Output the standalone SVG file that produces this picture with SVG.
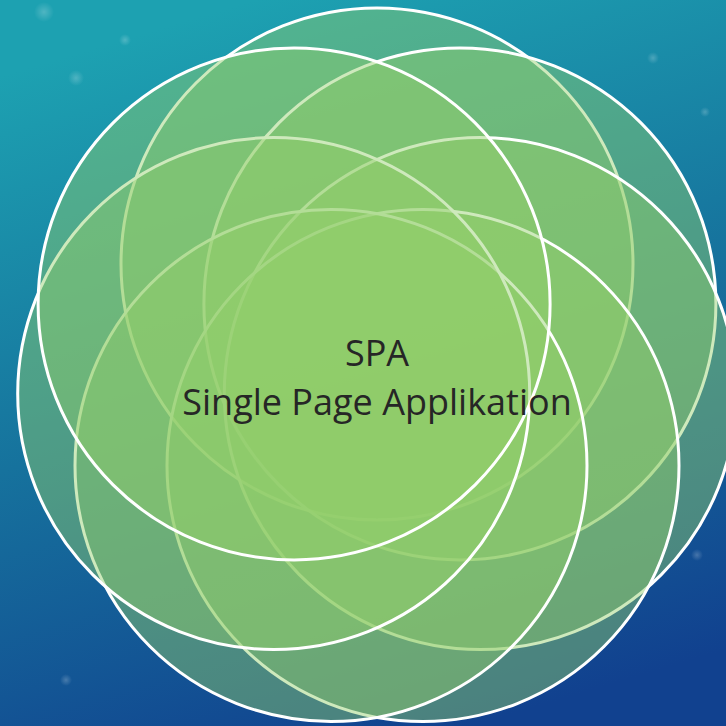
<svg xmlns="http://www.w3.org/2000/svg" width="726" height="726" viewBox="0 0 726 726">
  <defs>
    <linearGradient id="bg" x1="0.35" y1="0" x2="0.65" y2="1">
      <stop offset="0" stop-color="#1DA1B1"/>
      <stop offset="0.5" stop-color="#16729D"/>
      <stop offset="1" stop-color="#11418F"/>
    </linearGradient>
    <radialGradient id="spot">
      <stop offset="0" stop-color="#ffffff" stop-opacity="0.22"/>
      <stop offset="1" stop-color="#ffffff" stop-opacity="0"/>
    </radialGradient>
  </defs>
  <style>
    .ring { fill: #93CE6A; fill-opacity: 0.45; stroke: #ffffff; stroke-width: 3; }
    .label { font-family: "Open Sans", "Noto Sans", "Liberation Sans", sans-serif; font-size: 36px; fill: #262626; text-anchor: middle; }
  </style>

  <!-- backdrop -->
  <rect width="726" height="726" fill="url(#bg)"/>
  <g id="bokeh">
    <circle cx="76" cy="78" r="8" fill="url(#spot)"/>
    <circle cx="125" cy="40" r="6" fill="url(#spot)"/>
    <circle cx="44" cy="12" r="10" fill="url(#spot)"/>
    <circle cx="653" cy="58" r="6" fill="url(#spot)"/>
    <circle cx="705" cy="112" r="5" fill="url(#spot)"/>
    <circle cx="697" cy="555" r="6" fill="url(#spot)"/>
    <circle cx="66" cy="680" r="6" fill="url(#spot)"/>
  </g>

  <!-- seven rings on a circle of radius 106 around (377,370), drawn clockwise from the top -->
  <g id="ring-top"><circle class="ring" cx="377" cy="264" r="256"/></g>
  <g id="ring-upper-right"><circle class="ring" cx="459.9" cy="303.9" r="256"/></g>
  <g id="ring-right"><circle class="ring" cx="480.3" cy="393.6" r="256"/></g>
  <g id="ring-lower-right"><circle class="ring" cx="423" cy="465.5" r="256"/></g>
  <g id="ring-lower-left"><circle class="ring" cx="331" cy="465.5" r="256"/></g>
  <g id="ring-left"><circle class="ring" cx="273.7" cy="393.6" r="256"/></g>
  <g id="ring-upper-left"><circle class="ring" cx="294.1" cy="303.9" r="256"/></g>

  <g id="title">
    <text class="label" x="377" y="366">SPA</text>
    <text class="label" x="377" y="415">Single Page Applikation</text>
  </g>
</svg>
